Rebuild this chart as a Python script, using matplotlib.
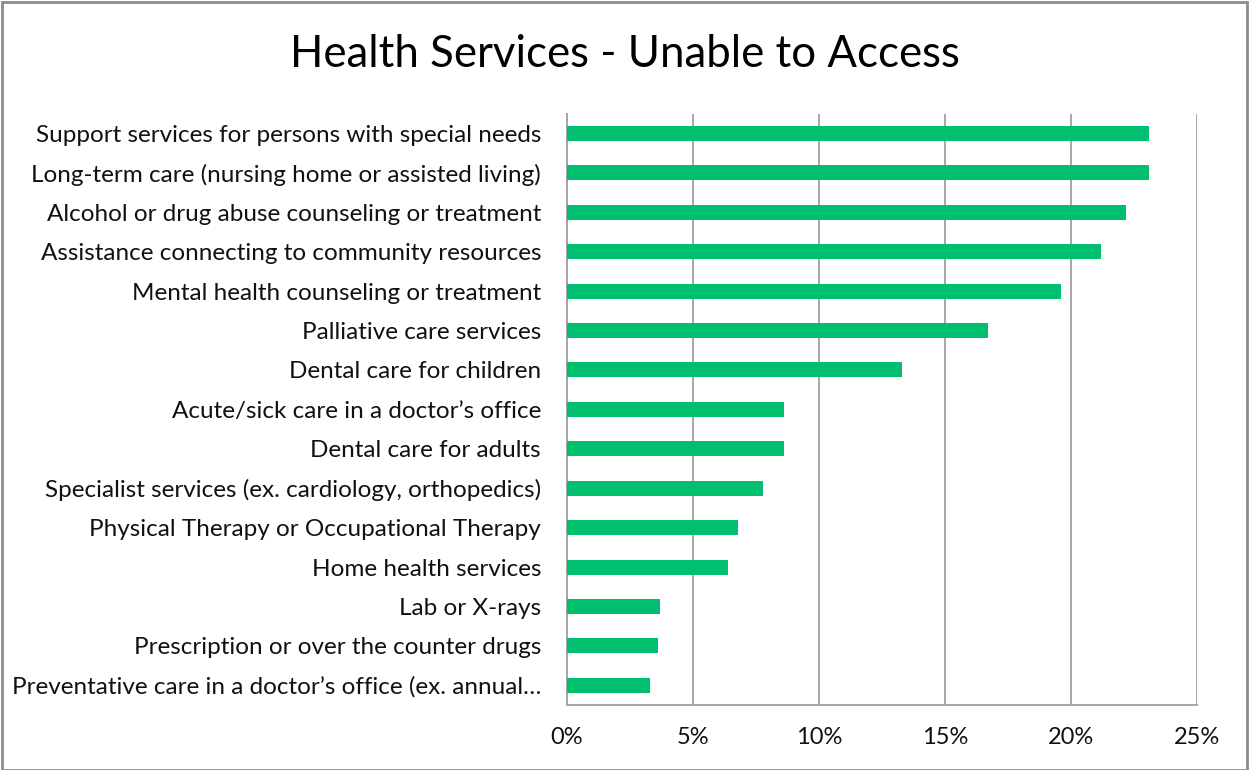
import matplotlib.pyplot as plt
from matplotlib.patches import Rectangle
from matplotlib.ticker import FuncFormatter

services = [
    "Support services for persons with special needs",
    "Long-term care (nursing home or assisted living)",
    "Alcohol or drug abuse counseling or treatment",
    "Assistance connecting to community resources",
    "Mental health counseling or treatment",
    "Palliative care services",
    "Dental care for children",
    "Acute/sick care in a doctor\u2019s office",
    "Dental care for adults",
    "Specialist services (ex. cardiology, orthopedics)",
    "Physical Therapy or Occupational Therapy",
    "Home health services",
    "Lab or X-rays",
    "Prescription or over the counter drugs",
    "Preventative care in a doctor\u2019s office (ex. annual\u2026",
]
unable_pct = [23.1, 23.1, 22.2, 21.2, 19.6, 16.7, 13.3, 8.6, 8.6, 7.8, 6.8, 6.4, 3.7, 3.6, 3.3]
xticks = [0, 5, 10, 15, 20, 25]

plt.rcParams['font.family'] = ['Lato', 'DejaVu Sans']

fig = plt.figure(figsize=(12.49, 7.7), dpi=100)
ax = fig.add_axes([0.454, 0.0844, 0.504, 0.768])

ypos = list(range(len(services)))
ax.barh(ypos, unable_pct, height=0.38, color='#00BF6F', zorder=3)
ax.set_ylim(len(services) - 0.5, -0.5)
ax.set_xlim(0, 25)
ax.set_xticks(xticks)
ax.xaxis.set_major_formatter(FuncFormatter(lambda v, p: f"{v:.0f}%"))
ax.set_yticks(ypos)
ax.set_yticklabels(services)
ax.tick_params(axis='y', length=0, pad=18.7, labelsize=17.5, colors='#111111')
ax.tick_params(axis='x', length=0, pad=16, labelsize=17, colors='#111111')
ax.grid(axis='x', color='#A6A6A6', linewidth=1.4, zorder=0)

for side in ['top', 'right']:
    ax.spines[side].set_visible(False)
for side in ['left', 'bottom']:
    ax.spines[side].set_color('#A6A6A6')
    ax.spines[side].set_linewidth(1.4)

fig.text(0.5, 0.913, "Health Services - Unable to Access", ha='center', va='baseline',
         fontsize=31.5, color='#000000')

# thin frame around the whole chart
fig.patches.append(Rectangle((0.002, 0.0), 0.996, 0.997, transform=fig.transFigure,
                             fill=False, edgecolor='#8C8C8C', linewidth=2))

fig.savefig('out.png', dpi=100)
